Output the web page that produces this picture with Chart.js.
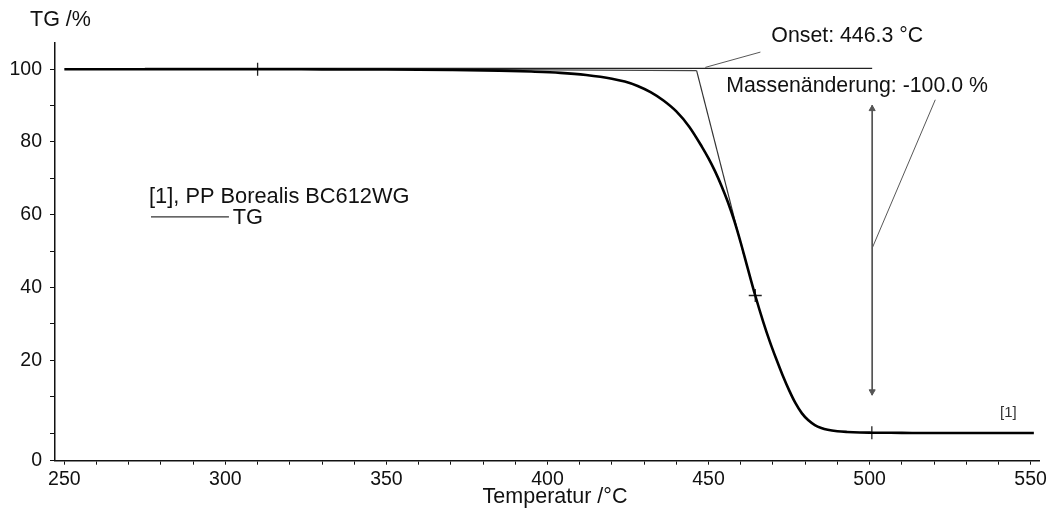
<!DOCTYPE html>
<html>
<head>
<meta charset="utf-8">
<title>TG PP Borealis BC612WG</title>
<script src="https://cdn.jsdelivr.net/npm/chart.js"></script>
<style>
  body { margin: 0; background: #fff; }
  #wrap { width: 1050px; height: 508px; }
</style>
</head>
<body>
<div id="wrap"><canvas id="tg-chart"></canvas></div>
<script>
// TG curve of PP Borealis BC612WG, mass in % over temperature in °C
const tempC = [250, 270, 290, 310, 330, 350, 370, 385, 395, 404, 412, 420, 424, 428, 432, 436, 440, 444,
  448, 450, 452, 454, 456, 458, 460, 462, 464.5, 467, 469, 471, 473, 475, 477, 479, 481,
  483, 485, 487, 490, 493, 497, 500.7, 510, 520, 530, 540, 551];
const massPct = [100.0, 100.0, 100.0, 100.0, 99.95, 99.9, 99.78, 99.6, 99.35, 99.0, 98.4, 97.4, 96.6, 95.4, 93.7, 91.4, 88.4, 84.2,
  78.6, 75.5, 72.0, 68.0, 63.5, 58.3, 52.3, 45.8, 37.8, 30.5, 25.2, 20.4, 15.9, 11.8, 8.2, 5.4, 3.5,
  2.2, 1.4, 0.9, 0.5, 0.3, 0.15, 0.1, 0.05, 0, 0, 0, 0];

// "+" marks on the curve
const markT = [310, 464.5, 500.7];
const markM = [100.0, 37.8, 0.1];

// onset evaluation: baselines and inflection tangent
const onsetTemp = 446.3;
const baseT = [275, 500.8];
const baseM = [100.25, 100.25];
const slopeBaseT = [340, onsetTemp];
const slopeBaseM = [100.1, 99.6];
const tangentT = [onsetTemp, 461];
const tangentM = [99.6, 48.7];
const onsetLeadT = [449, 466.1];
const onsetLeadM = [100.5, 104.7];

// mass change arrow
const massChange = -100.0;
const arrowT = [500.8, 500.8];
const arrowM = [10.4, 90.1];
const arrowHeadM = [11.4, 89.1];
const massLeadT = [500.8, 520.4];
const massLeadM = [50.8, 91.6];

// axis ticks
const xTicks = [];
for (let t = 250; t <= 550; t += 10) xTicks.push(t);
const xLabelled = [250, 300, 350, 400, 450, 500, 550];
const yMin = -7.6, yMax = 107.2;
const yTicks = [yMin, 0, 10, 20, 30, 40, 50, 60, 70, 80, 90, 100];
const yLabelled = [20, 40, 60, 80, 100];

const FONT = '"Liberation Sans", Arial, sans-serif';

const pts = (xs, ys) => xs.map((x, i) => ({ x, y: ys[i] }));

function lineSet(xs, ys, color, width) {
  return {
    data: pts(xs, ys),
    borderColor: color,
    borderWidth: width,
    pointRadius: 0,
    fill: false,
    order: 2,
    clip: false
  };
}

// texts placed in data coordinates
const labelsPlugin = {
  id: 'tgLabels',
  afterDraw(chart) {
    const { ctx, chartArea, scales: { x, y } } = chart;
    ctx.save();
    ctx.fillStyle = '#111';
    ctx.textBaseline = 'middle';
    ctx.textAlign = 'left';

    ctx.font = '21.5px ' + FONT;
    ctx.fillText('TG /%', chartArea.left - 25, 20);
    ctx.textAlign = 'center';
    ctx.fillText('Temperatur /°C', 555, 497);
    ctx.textAlign = 'left';

    ctx.font = '21.3px ' + FONT;
    ctx.fillText(`Onset: ${onsetTemp.toFixed(1)} °C`, x.getPixelForValue(469.5), y.getPixelForValue(109.2));
    ctx.fillText(`Massenänderung: ${massChange.toFixed(1)} %`, x.getPixelForValue(455.5), y.getPixelForValue(95.4));

    ctx.font = '21.8px ' + FONT;
    ctx.fillText('[1], PP Borealis BC612WG', x.getPixelForValue(276.3), y.getPixelForValue(64.8));
    ctx.fillText('TG', x.getPixelForValue(302.3), y.getPixelForValue(59.2));
    ctx.strokeStyle = '#333';
    ctx.lineWidth = 1.2;
    ctx.beginPath();
    ctx.moveTo(x.getPixelForValue(276.9), y.getPixelForValue(59.4));
    ctx.lineTo(x.getPixelForValue(301.1), y.getPixelForValue(59.4));
    ctx.stroke();

    ctx.fillStyle = '#333';
    ctx.font = '15px ' + FONT;
    ctx.fillText('[1]', x.getPixelForValue(540.5), y.getPixelForValue(5.5));
    ctx.restore();
  }
};

new Chart(document.getElementById('tg-chart'), {
  type: 'line',
  data: {
    datasets: [
      {
        data: pts(tempC, massPct),
        borderColor: '#000',
        borderWidth: 2.6,
        pointRadius: 0,
        cubicInterpolationMode: 'monotone',
        fill: false,
        order: 0
      },
      {
        data: pts(markT, markM),
        showLine: false,
        pointStyle: 'cross',
        pointRadius: 6.5,
        pointBorderWidth: 1.3,
        borderColor: '#222',
        order: 0
      },
      lineSet(baseT, baseM, '#222', 1.2),
      lineSet(slopeBaseT, slopeBaseM, '#444', 1.1),
      lineSet(tangentT, tangentM, '#333', 1.2),
      lineSet(onsetLeadT, onsetLeadM, '#444', 0.9),
      lineSet(arrowT, arrowM, '#555', 1.7),
      {
        data: pts(arrowT, arrowHeadM),
        showLine: false,
        pointStyle: 'triangle',
        pointRadius: 3.5,
        pointRotation: ctx => (ctx.dataIndex === 0 ? 180 : 0),
        backgroundColor: '#555',
        borderColor: '#555',
        order: 1
      },
      lineSet(massLeadT, massLeadM, '#444', 0.9)
    ]
  },
  options: {
    responsive: true,
    maintainAspectRatio: false,
    animation: false,
    events: [],
    layout: { padding: { top: 43, right: 10, left: 0, bottom: 0 } },
    plugins: { legend: { display: false }, tooltip: { enabled: false } },
    scales: {
      x: {
        type: 'linear',
        min: 247.1,
        max: 552.9,
        afterBuildTicks: scale => { scale.ticks = xTicks.map(v => ({ value: v })); },
        afterFit: scale => { scale.height = 47.3; },
        ticks: {
          autoSkip: false,
          maxRotation: 0,
          padding: 3,
          color: '#111',
          font: { family: FONT, size: 19.5 },
          callback: v => (xLabelled.includes(v) ? String(v) : '')
        },
        grid: { drawOnChartArea: false, tickLength: 4, color: '#111', tickWidth: 1 },
        border: { color: '#111', width: 1.5 }
      },
      y: {
        min: yMin,
        max: yMax,
        afterBuildTicks: scale => { scale.ticks = yTicks.map(v => ({ value: v })); },
        afterFit: scale => { scale.width = 55; },
        ticks: {
          autoSkip: false,
          padding: 8,
          color: '#111',
          font: { family: FONT, size: 19.5 },
          callback: v => (v === yMin ? '0' : yLabelled.includes(v) ? String(v) : '')
        },
        grid: { drawOnChartArea: false, tickLength: 5, color: '#111', tickWidth: 1 },
        border: { color: '#111', width: 1.5 }
      }
    }
  },
  plugins: [labelsPlugin]
});
</script>
</body>
</html>
